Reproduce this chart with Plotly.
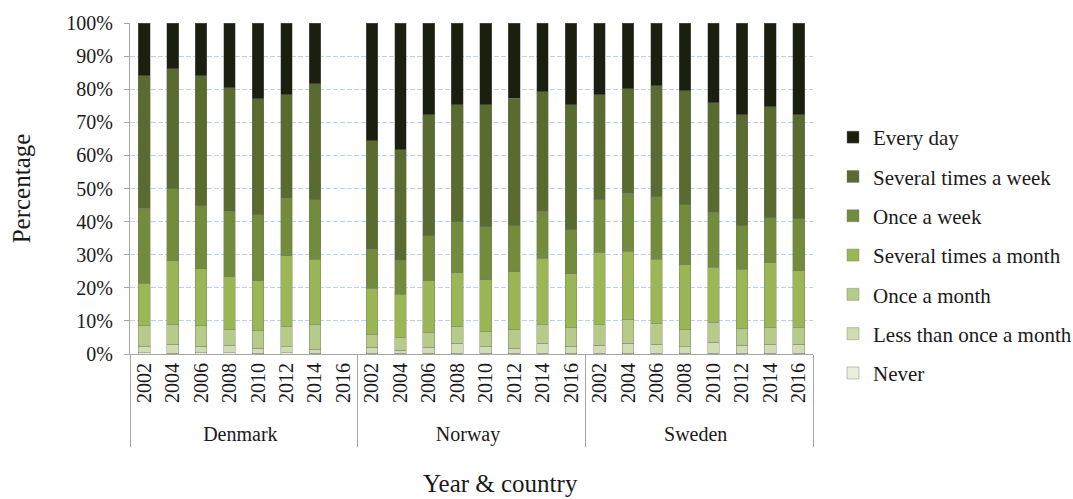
import plotly.graph_objects as go

countries = ["Denmark"] * 8 + ["Norway"] * 8 + ["Sweden"] * 8
years = ["2002", "2004", "2006", "2008", "2010", "2012", "2014", "2016"] * 3

# Share of respondents (%) per frequency, bottom of the stack first
never = [0.4, 0.2, 0.4, 0.4, 0.2, 0.4, 0.2, None,
         0.2, 0.2, 0.2, 0.3, 0.2, 0.3, 0.3, 0.2,
         0.3, 0.2, 0.2, 0.2, 0.3, 0.3, 0.2, 0.3]
less_than_monthly = [2.0, 2.8, 2.0, 2.3, 1.6, 1.8, 1.3, None,
                     1.9, 1.0, 1.9, 3.0, 2.2, 1.5, 3.0, 2.2,
                     2.4, 3.1, 2.8, 2.0, 3.3, 2.4, 2.8, 2.7]
once_month = [6.1, 5.8, 6.1, 4.6, 5.2, 6.0, 7.3, None,
              3.9, 3.7, 4.3, 4.9, 4.3, 5.5, 5.5, 5.6,
              6.1, 7.0, 6.3, 5.2, 6.0, 5.0, 5.0, 5.0]
several_month = [12.9, 19.3, 17.2, 16.0, 15.2, 21.5, 19.8, None,
                 13.8, 13.2, 15.8, 16.4, 15.7, 17.5, 20.1, 16.2,
                 22.0, 20.8, 19.4, 19.5, 16.6, 17.9, 19.5, 17.1]
once_week = [22.7, 21.8, 19.1, 19.9, 19.8, 17.3, 18.0, None,
             11.9, 10.3, 13.6, 15.3, 16.0, 13.9, 14.3, 13.3,
             15.8, 17.5, 18.8, 18.2, 16.7, 13.1, 13.6, 15.7]
several_week = [40.0, 36.3, 39.3, 37.2, 35.1, 31.3, 35.1, None,
                32.7, 33.3, 36.5, 35.4, 36.9, 38.6, 36.0, 37.8,
                31.8, 31.5, 33.6, 34.4, 33.0, 33.6, 33.6, 31.5]
every_day = [15.9, 13.8, 15.9, 19.6, 22.9, 21.7, 18.3, None,
             35.6, 38.3, 27.7, 24.7, 24.7, 22.7, 20.8, 24.7,
             21.6, 19.9, 18.9, 20.5, 24.1, 27.7, 25.3, 27.7]

series = [
    ("Never", never, "#e8efdb"),
    ("Less than once a month", less_than_monthly, "#cfddb0"),
    ("Once a month", once_month, "#b6cb87"),
    ("Several times a month", several_month, "#9bb755"),
    ("Once a week", once_week, "#738c3c"),
    ("Several times a week", several_week, "#596b2f"),
    ("Every day", every_day, "#1a1f0e"),
]

font_family = "'Liberation Serif', 'Times New Roman', serif"
text_color = "#1a1a1a"

fig = go.Figure()
for i, (name, vals, color) in enumerate(series):
    fig.add_trace(go.Bar(
        x=[countries, years],
        y=vals,
        name=name,
        legendgroup=name,
        legendrank=len(series) - i,
        marker=dict(color=color, line=dict(color="rgba(120,120,120,0.7)", width=0.6)),
        width=0.41,
    ))

fig.update_layout(
    barmode="stack",
    width=1073,
    height=499,
    margin=dict(l=130, r=260, t=23, b=145, autoexpand=False),
    plot_bgcolor="white",
    paper_bgcolor="white",
    font=dict(family=font_family, size=20, color=text_color),
    legend=dict(
        traceorder="grouped",
        x=(833 - 130) / 683, xanchor="left",
        y=(354 - 117) / 331, yanchor="top",
        font=dict(family=font_family, size=21, color=text_color),
        tracegroupgap=9,
        itemwidth=30,
    ),
    xaxis=dict(
        type="multicategory",
        tickangle=-90,
        showline=True,
        linecolor="#a6a6a6",
        linewidth=1,
        ticks="",
        showdividers=True,
        dividercolor="#a6a6a6",
        dividerwidth=1,
        tickfont=dict(family=font_family, size=20, color=text_color),
    ),
    yaxis=dict(
        range=[0, 100],
        dtick=10,
        ticksuffix="%",
        showgrid=True,
        gridcolor="#b9d1ec",
        griddash="5px,2px",
        gridwidth=1,
        showline=True,
        linecolor="#a6a6a6",
        linewidth=1,
        ticks="outside",
        tickcolor="#a6a6a6",
        ticklen=5,
        ticklabelstandoff=7,
        tickfont=dict(family=font_family, size=20, color=text_color),
        title=dict(text="Percentage", font=dict(family=font_family, size=25, color=text_color), standoff=28),
    ),
    annotations=[
        dict(text="Year & country", xref="paper", yref="paper",
             x=(500 - 130) / 683, y=-(499 - 354) / 331,
             xanchor="center", yanchor="bottom", showarrow=False,
             font=dict(family=font_family, size=25, color=text_color)),
    ],
)

fig.write_html("out.html")
